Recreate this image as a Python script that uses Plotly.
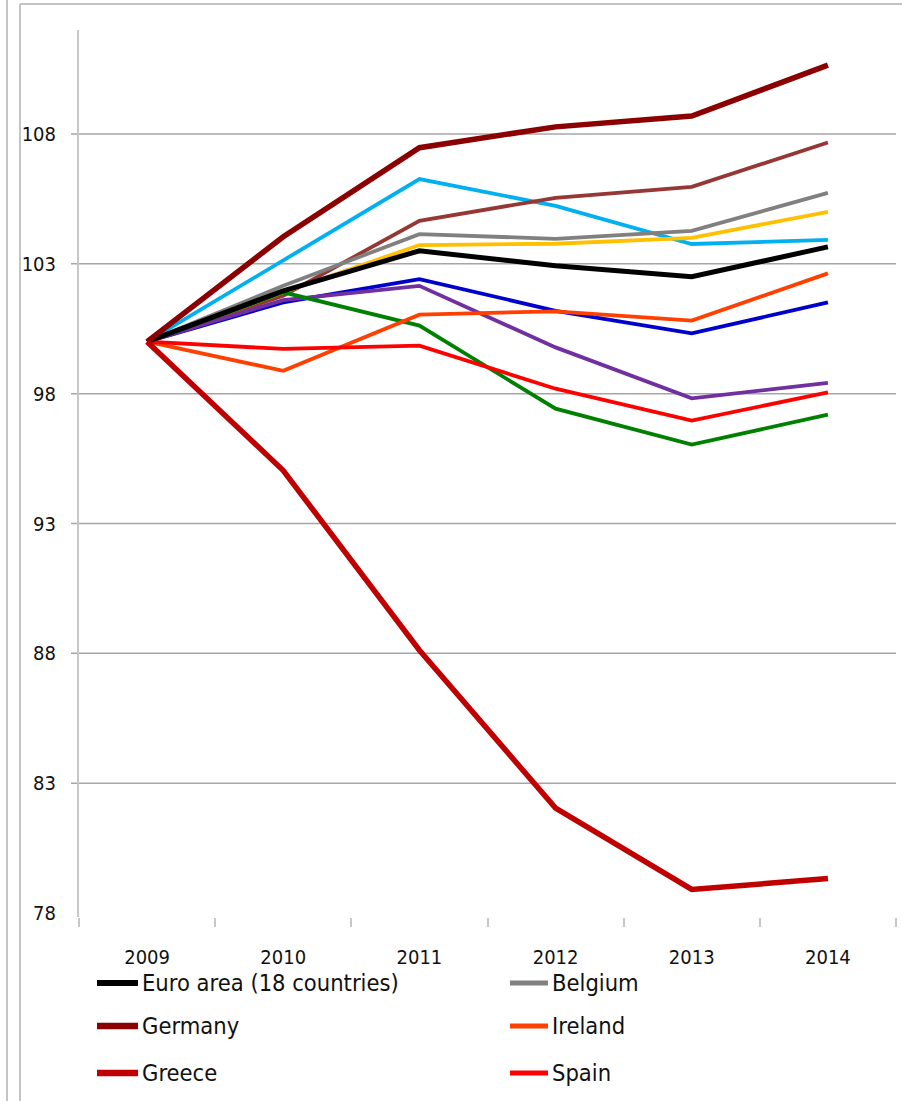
import plotly.graph_objects as go

# ---------------- data ----------------
years = ["2009", "2010", "2011", "2012", "2013", "2014"]

euro_area = [100, 101.96, 103.50, 102.92, 102.50, 103.65]
belgium = [100, 102.15, 104.14, 103.96, 104.27, 105.73]
germany = [100, 104.04, 107.47, 108.27, 108.69, 110.65]
ireland = [100, 98.88, 101.04, 101.17, 100.81, 102.63]
greece = [100, 95.04, 88.12, 82.04, 78.91, 79.33]
spain = [100, 99.72, 99.85, 98.19, 96.96, 98.05]
# series whose legend entries are cut off in the reference
cyan_series = [100, 103.15, 106.26, 105.23, 103.76, 103.92]
brown_series = [100, 101.77, 104.65, 105.54, 105.96, 107.67]
gold_series = [100, 101.90, 103.72, 103.77, 104.00, 105.00]
blue_series = [100, 101.51, 102.41, 101.19, 100.32, 101.51]
purple_series = [100, 101.60, 102.15, 99.78, 97.82, 98.41]
green_series = [100, 101.90, 100.62, 97.42, 96.04, 97.19]

y_ticks = [78, 83, 88, 93, 98, 103, 108]

# (name, values, colour, width, shown in legend)
series = [
    ("Euro area (18 countries)", euro_area, "#000000", 5, True),
    ("Belgium", belgium, "#808080", 3.8, True),
    ("Germany", germany, "#8B0000", 5.5, True),
    ("Ireland", ireland, "#FF4000", 3.8, True),
    ("Greece", greece, "#C00000", 5.5, True),
    ("Spain", spain, "#FF0000", 3.8, True),
    ("Series 7", cyan_series, "#00B0F0", 3.8, False),
    ("Series 8", brown_series, "#953735", 3.8, False),
    ("Series 9", gold_series, "#FFC000", 3.8, False),
    ("Series 10", blue_series, "#0000CC", 3.8, False),
    ("Series 11", purple_series, "#7030A0", 3.8, False),
    ("Series 12", green_series, "#008000", 3.8, False),
]

# ---------------- layout geometry (pixels) ----------------
W, H = 902, 1101
L, R, T, B = 79, 6, 30, 184
PW, PH = W - L - R, H - T - B


def px(x):
    return (x - L) / PW


def py(y):
    return (H - B - y) / PH


FONT = "DejaVu Sans Condensed, Liberation Sans Narrow, Arial Narrow, DejaVu Sans, sans-serif"
TXT = "#111111"

fig = go.Figure()
draw_order = [6, 7, 8, 9, 10, 11, 1, 3, 5, 0, 2, 4]
for i in draw_order:
    name, vals, col, w, _ = series[i]
    fig.add_trace(go.Scatter(
        x=years, y=vals, name=name, mode="lines",
        line=dict(color=col, width=w), showlegend=False,
    ))

shapes = []
annotations = []

# horizontal gridlines (no line at the bottom value)
for v in y_ticks[1:]:
    shapes.append(dict(type="line", xref="paper", yref="y",
                       x0=px(L - 8), x1=1.0, y0=v, y1=v,
                       line=dict(color="#A6A6A6", width=1.5), layer="below"))

# outer frame lines
frame_col = "#C4C4C4"
shapes.append(dict(type="line", xref="paper", yref="paper",
                   x0=px(7), x1=px(7), y0=py(0), y1=py(H),
                   line=dict(color=frame_col, width=2)))
shapes.append(dict(type="line", xref="paper", yref="paper",
                   x0=px(20), x1=px(20), y0=py(4), y1=py(H),
                   line=dict(color=frame_col, width=2)))
shapes.append(dict(type="line", xref="paper", yref="paper",
                   x0=px(20), x1=px(W), y0=py(4), y1=py(4),
                   line=dict(color=frame_col, width=2)))

# manual legend (two columns, only first six entries visible)
col_x = [(97, 138, 140), (510, 548, 550)]
row_y = [983, 1026, 1073]
k = 0
for name, vals, col, w, shown in series:
    if not shown:
        continue
    r, c = divmod(k, 2)
    x0, x1, xt = col_x[c]
    yy = row_y[r]
    shapes.append(dict(type="line", xref="paper", yref="paper",
                       x0=px(x0), x1=px(x1), y0=py(yy), y1=py(yy),
                       line=dict(color=col, width=w + 1)))
    annotations.append(dict(xref="paper", yref="paper", x=px(xt), y=py(yy),
                            text=name, showarrow=False, xanchor="left",
                            yanchor="middle",
                            font=dict(family=FONT, size=23.5, color=TXT)))
    k += 1

fig.update_layout(
    width=W, height=H,
    margin=dict(l=L, r=R, t=T, b=B, pad=0),
    paper_bgcolor="white", plot_bgcolor="white",
    showlegend=False,
    shapes=shapes, annotations=annotations,
    font=dict(family=FONT, size=20, color=TXT),
    xaxis=dict(
        type="category", tickson="boundaries", ticks="outside",
        ticklen=9, tickcolor="#C8C8C8", tickwidth=1.5,
        showgrid=False, showline=False, zeroline=False,
        ticklabelstandoff=26,
        tickfont=dict(family=FONT, size=20, color=TXT),
        range=[-0.5, 5.5],
    ),
    yaxis=dict(
        range=[77.85, 112], tickvals=y_ticks,
        ticktext=[str(v) for v in y_ticks],
        ticks="", showgrid=False, zeroline=False,
        showline=True, linecolor="#C8C8C8", linewidth=2,
        ticklabelstandoff=17,
        tickfont=dict(family=FONT, size=20, color=TXT),
    ),
)

fig.write_html("out.html", config={"displayModeBar": False},
               post_script="document.body.style.margin='0px';")
